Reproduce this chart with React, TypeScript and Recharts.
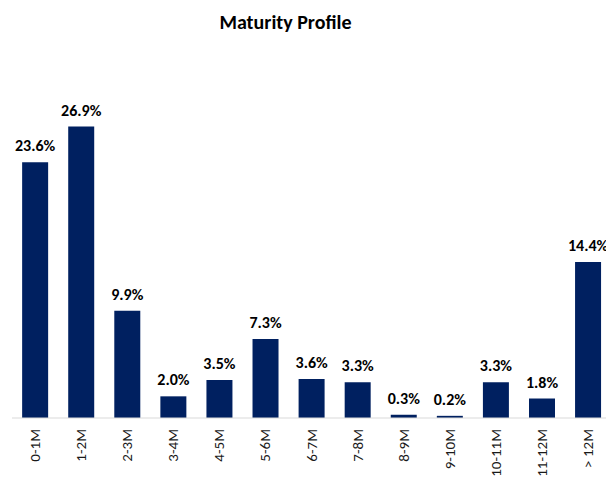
import { BarChart, Bar, XAxis, YAxis, LabelList } from "recharts"

const buckets = ["0-1M", "1-2M", "2-3M", "3-4M", "4-5M", "5-6M", "6-7M", "7-8M", "8-9M", "9-10M", "10-11M", "11-12M", "> 12M"]
const shares = [23.6, 26.9, 9.9, 2.0, 3.5, 7.3, 3.6, 3.3, 0.3, 0.2, 3.3, 1.8, 14.4]

const data = buckets.map((bucket, i) => ({ bucket, share: shares[i] }))

const font = "Calibri, Carlito, Lato, 'Liberation Sans', Arial, sans-serif"

function RotatedTick({ x, y, payload }: any) {
  return (
    <text
      x={0}
      y={0}
      transform={`translate(${x + 5},${y + 3}) rotate(-90)`}
      textAnchor="end"
      fontSize={15}
      fontFamily={font}
      fill="#1a1a1a"
    >
      {payload.value}
    </text>
  )
}

export default function App() {
  return (
    <div style={{ position: "relative", width: 606, height: 469 }}>
      <div
        style={{
          position: "absolute",
          left: 0,
          top: 2,
          width: 555,
          textAlign: "center",
          fontFamily: font,
          fontWeight: "bold",
          fontSize: 20,
          color: "#000",
        }}
      >
        Maturity Profile
      </div>
      <BarChart width={606} height={469} data={data} margin={{ top: 85, right: 3, bottom: 4, left: 4 }} barCategoryGap="22%">
        <XAxis
          dataKey="bucket"
          interval={0}
          tickLine={false}
          axisLine={{ stroke: "#d9d9d9" }}
          tick={<RotatedTick />}
          height={55}
        />
        <YAxis hide domain={[0, 30]} />
        <Bar dataKey="share" fill="#002060" isAnimationActive={false}>
          <LabelList
            dataKey="share"
            position="top"
            offset={11}
            formatter={(v: any) => `${Number(v).toFixed(1)}%`}
            style={{ fontFamily: font, fontWeight: "bold", fontSize: 16, fill: "#000" }}
          />
        </Bar>
      </BarChart>
    </div>
  )
}
